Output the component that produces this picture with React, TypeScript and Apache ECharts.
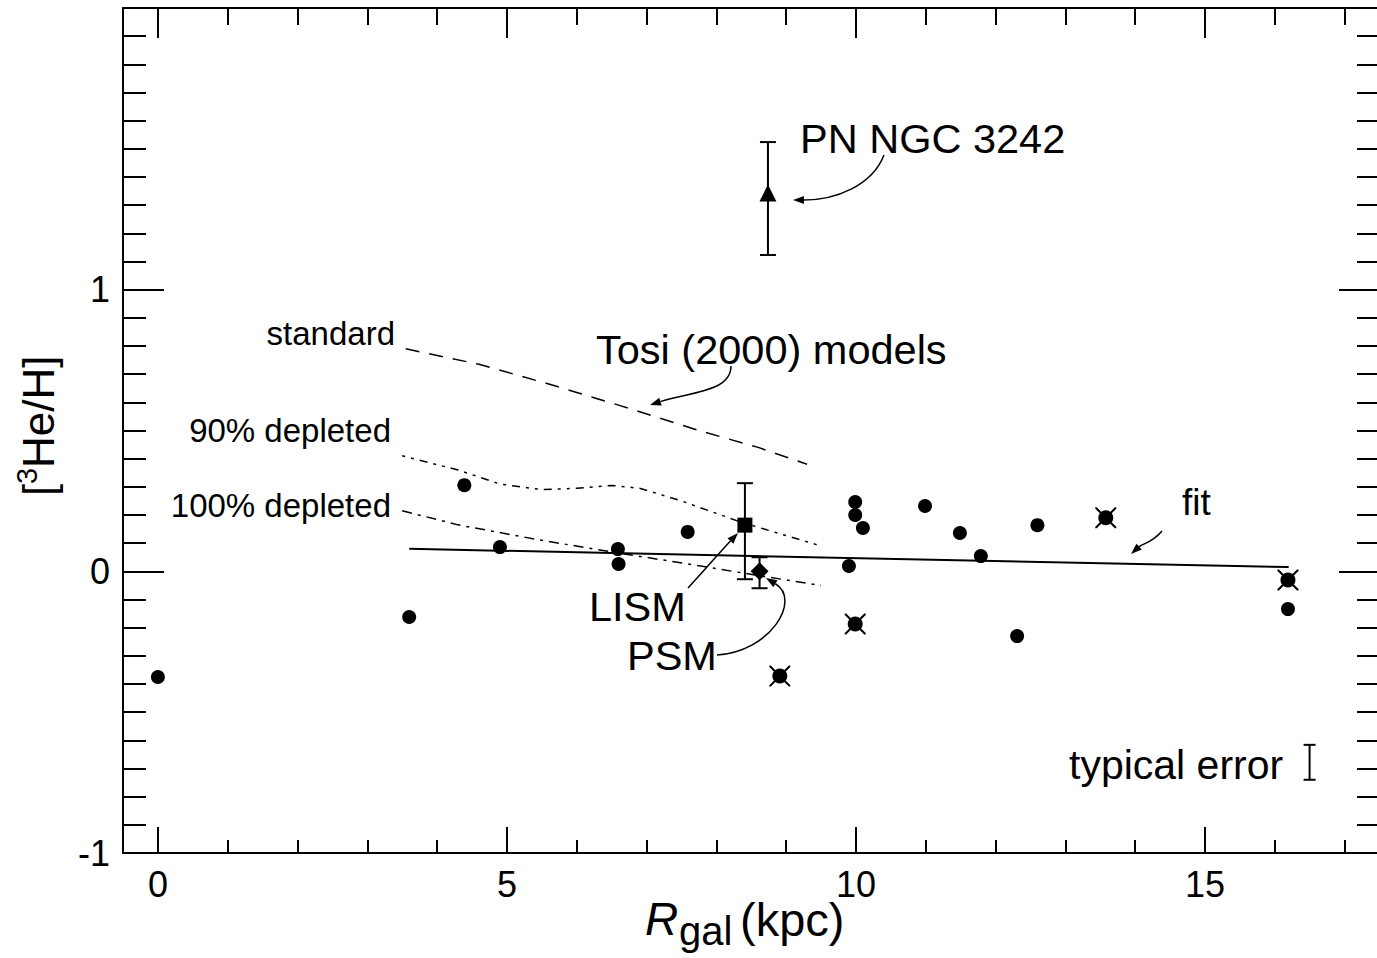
import React, { useEffect, useRef } from "react";
import * as echarts from "echarts";

// ---------------- data ----------------
const circleX = [0.0, 3.6, 4.39, 4.9, 6.59, 6.6, 7.59, 9.99, 9.99, 10.1, 9.9, 10.99, 11.49, 11.79, 12.31, 12.6, 16.19];
const circleY = [-0.375, -0.162, 0.306, 0.086, 0.079, 0.026, 0.14, 0.246, 0.2, 0.154, 0.019, 0.232, 0.136, 0.054, -0.23, 0.164, -0.134];
const crossX = [8.91, 9.99, 13.58, 16.19];
const crossY = [-0.372, -0.187, 0.19, -0.031];

const pnNgc = [8.74, 1.343, 1.123, 1.524]; // x, y, low, high
const lism = [8.41, 0.164, -0.028, 0.313];
const psm = [8.62, 0.0, -0.06, 0.05];
const typicalError = [16.5, -0.678, -0.74, -0.616];

const fitX = [3.6, 16.2];
const fitY = [0.08, 0.015];

const standardX = [3.55, 4.6, 5.6, 6.6, 7.75, 8.6, 9.3];
const standardY = [0.79, 0.735, 0.665, 0.59, 0.5, 0.44, 0.38];

const dep90X = [3.5, 4.3, 4.9, 5.5, 6.0, 6.5, 6.9, 7.5, 8.35, 9.5];
const dep90Y = [0.41, 0.36, 0.31, 0.29, 0.295, 0.305, 0.295, 0.25, 0.175, 0.09];

const dep100X = [3.5, 4.3, 5.5, 6.6, 7.75, 8.6, 9.5];
const dep100Y = [0.215, 0.165, 0.11, 0.065, 0.02, -0.015, -0.05];

const xMajorTicks = [0, 5, 10, 15];
const xMinorTicks = [1, 2, 3, 4, 6, 7, 8, 9, 11, 12, 13, 14, 16, 17];

const FONT = '"Liberation Sans", Arial, Helvetica, sans-serif';

const zip = (xs: number[], ys: number[]) => xs.map((x, i) => [x, ys[i]]);

const crossPath =
  "path://M0,0 L1.4,0 L20,18.6 L20,20 L18.6,20 L0,1.4 Z M18.6,0 L20,0 L20,1.4 L1.4,20 L0,20 L0,18.6 Z";

function errRender(cap: number) {
  return (params: any, api: any) => {
    const x = api.value(0);
    const lo = api.value(2);
    const hi = api.value(3);
    const p1 = api.coord([x, hi]);
    const p2 = api.coord([x, lo]);
    const st = { stroke: "#000", lineWidth: 2 };
    return {
      type: "group",
      children: [
        { type: "line", shape: { x1: p1[0], y1: p1[1], x2: p2[0], y2: p2[1] }, style: st },
        { type: "line", shape: { x1: p1[0] - cap, y1: p1[1], x2: p1[0] + cap, y2: p1[1] }, style: st },
        { type: "line", shape: { x1: p2[0] - cap, y1: p2[1], x2: p2[0] + cap, y2: p2[1] }, style: st },
      ],
    };
  };
}

function txt(text: string, x: number, y: number, size: number, align = "left", extra = "") {
  return {
    type: "text",
    x,
    y,
    silent: true,
    style: {
      text,
      fill: "#000",
      font: `${extra}${size}px ${FONT}`,
      textAlign: align,
      textVerticalAlign: "middle",
      align,
      verticalAlign: "middle",
    },
  };
}

function arrow(
  x1: number, y1: number, c1x: number, c1y: number, c2x: number, c2y: number, x2: number, y2: number
) {
  const ang = Math.atan2(y2 - c2y, x2 - c2x);
  const L = 11;
  const W = 4;
  const bx = x2 - L * Math.cos(ang);
  const by = y2 - L * Math.sin(ang);
  const px = -Math.sin(ang) * W;
  const py = Math.cos(ang) * W;
  return [
    {
      type: "bezierCurve",
      silent: true,
      shape: { x1, y1, x2: bx, y2: by, cpx1: c1x, cpy1: c1y, cpx2: c2x, cpy2: c2y },
      style: { stroke: "#000", lineWidth: 1.5, fill: null },
    },
    {
      type: "polygon",
      silent: true,
      shape: { points: [[x2, y2], [bx + px, by + py], [bx - px, by - py]] },
      style: { fill: "#000" },
    },
  ];
}

const axisLineStyle = { color: "#000", width: 2 };
const markerStyle = { color: "#000", opacity: 1 };

export default function App() {
  const ref = useRef<HTMLDivElement>(null);

  useEffect(() => {
    if (!ref.current) return;
    const chart = echarts.init(ref.current, undefined, { renderer: "svg" });

    const gridRect = { left: 123, top: 8, width: 1260, height: 845 };
    const xMax = -0.5 + 1260 / 69.8;

    const xBase = (pos: string, grid: number) => ({
      type: "value",
      gridIndex: grid,
      position: pos,
      min: -0.5,
      max: xMax,
      splitLine: { show: false },
    });

    const yBase = (pos: string, grid: number) => ({
      type: "value",
      gridIndex: grid,
      position: pos,
      min: -1,
      max: 2,
      interval: 1,
      splitLine: { show: false },
    });

    const option: any = {
      animation: false,
      backgroundColor: "#fff",
      grid: [
        { ...gridRect, containLabel: false },
        { ...gridRect, containLabel: false },
      ],
      xAxis: [
        {
          ...xBase("bottom", 0),
          axisLine: { show: true, onZero: false, lineStyle: axisLineStyle },
          axisTick: { show: true, inside: true, length: 26, customValues: xMajorTicks, lineStyle: axisLineStyle },
          axisLabel: { show: true, customValues: xMajorTicks, fontSize: 36, color: "#000", fontFamily: FONT, margin: 13 },
        },
        {
          ...xBase("top", 0),
          axisLine: { show: true, onZero: false, lineStyle: axisLineStyle },
          axisTick: { show: true, inside: true, length: 30, customValues: xMajorTicks, lineStyle: axisLineStyle },
          axisLabel: { show: false },
        },
        {
          ...xBase("bottom", 1),
          axisLine: { show: false, onZero: false },
          axisTick: { show: true, inside: true, length: 13, customValues: xMinorTicks, lineStyle: axisLineStyle },
          axisLabel: { show: false },
        },
        {
          ...xBase("top", 1),
          axisLine: { show: false, onZero: false },
          axisTick: { show: true, inside: true, length: 17, customValues: xMinorTicks, lineStyle: axisLineStyle },
          axisLabel: { show: false },
        },
      ],
      yAxis: [
        {
          ...yBase("left", 0),
          axisLine: { show: true, onZero: false, lineStyle: axisLineStyle },
          axisTick: { show: true, inside: true, length: 41, lineStyle: axisLineStyle },
          minorTick: { show: true, splitNumber: 10, length: 23, lineStyle: axisLineStyle },
          axisLabel: {
            show: true,
            showMaxLabel: false,
            fontSize: 36,
            color: "#000",
            fontFamily: FONT,
            margin: 13,
            padding: [0, 0, 12, 0],
          },
        },
        {
          ...yBase("right", 0),
          axisLine: { show: true, onZero: false, lineStyle: axisLineStyle },
          axisTick: { show: true, inside: true, length: 44, lineStyle: axisLineStyle },
          minorTick: { show: true, splitNumber: 10, length: 26, lineStyle: axisLineStyle },
          axisLabel: { show: false },
        },
        {
          ...yBase("left", 1),
          show: false,
        },
      ],
      series: [
        {
          type: "line",
          data: zip(fitX, fitY),
          showSymbol: false,
          symbol: "none",
          lineStyle: { color: "#000", width: 2 },
          z: 2,
        },
        {
          type: "line",
          data: zip(standardX, standardY),
          showSymbol: false,
          symbol: "none",
          lineStyle: { color: "#000", width: 1.5, type: [14, 10] },
          z: 2,
        },
        {
          type: "line",
          data: zip(dep90X, dep90Y),
          showSymbol: false,
          symbol: "none",
          lineStyle: { color: "#000", width: 1.5, type: [3, 6, 3, 6, 8, 6] },
          z: 2,
        },
        {
          type: "line",
          data: zip(dep100X, dep100Y),
          showSymbol: false,
          symbol: "none",
          lineStyle: { color: "#000", width: 1.5, type: [10, 6, 3, 6] },
          z: 2,
        },
        {
          type: "custom",
          renderItem: errRender(8),
          data: [pnNgc, lism, psm],
          z: 3,
        },
        {
          type: "custom",
          renderItem: errRender(6),
          data: [typicalError],
          z: 3,
        },
        {
          type: "scatter",
          data: zip(circleX, circleY),
          symbol: "circle",
          symbolSize: 14,
          itemStyle: markerStyle,
          z: 4,
        },
        {
          type: "scatter",
          data: zip(crossX, crossY),
          symbol: "circle",
          symbolSize: 15,
          itemStyle: markerStyle,
          z: 4,
        },
        {
          type: "scatter",
          data: zip(crossX, crossY),
          symbol: crossPath,
          symbolSize: 21,
          itemStyle: markerStyle,
          z: 4,
        },
        {
          type: "scatter",
          data: [[pnNgc[0], pnNgc[1]]],
          symbol: "triangle",
          symbolSize: 17,
          itemStyle: markerStyle,
          z: 4,
        },
        {
          type: "scatter",
          data: [[lism[0], lism[1]]],
          symbol: "rect",
          symbolSize: 15,
          itemStyle: markerStyle,
          z: 4,
        },
        {
          type: "scatter",
          data: [[psm[0], psm[1]]],
          symbol: "diamond",
          symbolSize: 18,
          itemStyle: markerStyle,
          z: 4,
        },
      ],
      graphic: [
        txt("PN NGC 3242", 800, 138, 41.5),
        txt("Tosi (2000) models", 596, 349, 41.5),
        txt("standard", 395, 333, 33, "right"),
        txt("90% depleted", 391, 430, 33, "right"),
        txt("100% depleted", 391, 505, 33, "right"),
        txt("fit", 1182, 502, 37),
        txt("LISM", 589, 606, 41.5),
        txt("PSM", 627, 655, 41.5),
        txt("typical error", 1069, 765, 41),
        // x axis title
        txt("R", 645, 919, 46, "left", "italic "),
        txt("gal", 679, 931, 40),
        txt("(kpc)", 740, 919, 47),
        // y axis title (rotated)
        {
          type: "group",
          x: 38,
          y: 425,
          rotation: Math.PI / 2,
          silent: true,
          children: [
            txt("[", -71, 0, 44),
            txt("3", -59, -11, 29),
            txt("He/H]", -43, 0, 44),
          ],
        },
        ...arrow(884, 155, 872, 186, 835, 200, 793, 200),
        ...arrow(731, 366, 731, 392, 690, 392, 650, 405),
        ...arrow(1162, 531, 1152, 543, 1142, 544, 1131, 554),
        ...arrow(688, 588, 703, 572, 721, 551, 738, 533),
        ...arrow(717, 655, 770, 652, 802, 600, 766, 578),
      ],
    };

    chart.setOption(option);
    return () => chart.dispose();
  }, []);

  return (
    <div
      ref={ref}
      style={{ position: "fixed", left: 0, top: 0, width: 1400, height: 958, background: "#fff" }}
    />
  );
}
